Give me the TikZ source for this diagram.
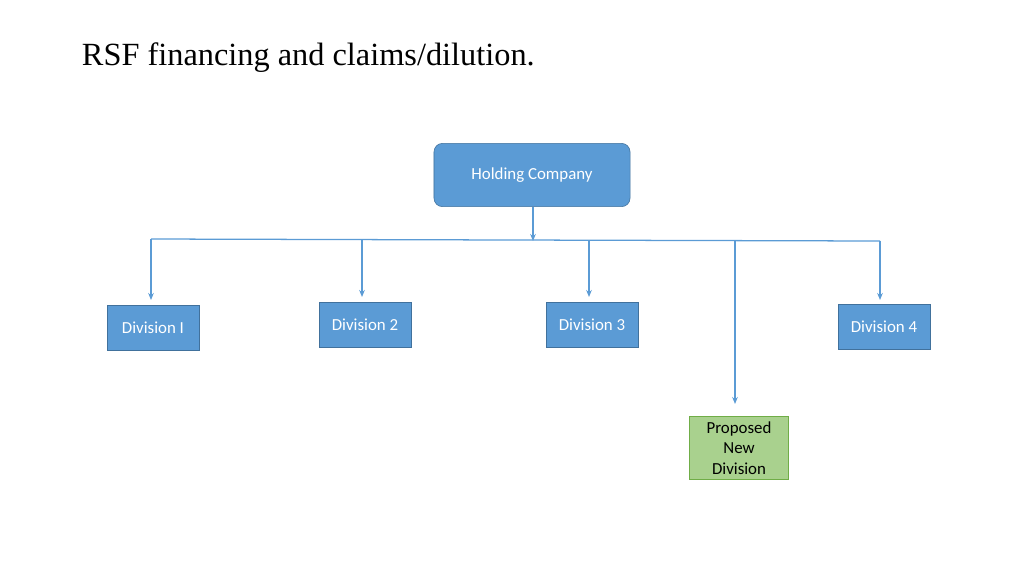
\documentclass[tikz,border=0pt]{standalone}
\usepackage{fontspec}
\setmainfont{Liberation Serif}
\newfontfamily\boxfont{Carlito}
\usetikzlibrary{arrows.meta}
\definecolor{boxblue}{HTML}{5B9BD5}
\definecolor{edgeblue}{HTML}{41719C}
\definecolor{boxgreen}{HTML}{A9D18E}
\definecolor{edgegreen}{HTML}{70AD47}
\begin{document}
\begin{tikzpicture}[x=0.025cm,y=-0.025cm,
	division/.style={draw=edgeblue, fill=boxblue, text=white, font=\boxfont\fontsize{12}{14}\selectfont, minimum width=2.3cm, minimum height=1.12cm, inner sep=0pt},
	link/.style={draw=boxblue, line width=0.9pt, -{Stealth[length=5pt,width=4pt]}}]
	\useasboundingbox (0,0) rectangle (1024,575);
	
	\node[anchor=west, font=\fontsize{23}{27}\selectfont] (title) at (77,58) {RSF financing and claims/dilution.};
	
	\node[division, rounded corners=6pt, minimum width=4.9cm, minimum height=1.58cm] (hold) at (532,175) {Holding Company};
	\node[division] (d1) at (153,328) {Division I};
	\node[division] (d2) at (365,325) {Division 2};
	\node[division] (d3) at (592,325) {Division 3};
	\node[division] (d4) at (884,327) {Division 4};
	\node[division, draw=edgegreen, fill=boxgreen, text=black, minimum width=2.47cm, minimum height=1.57cm, align=center, font=\boxfont\fontsize{12}{14.5}\selectfont] (new) at (739,448) {Proposed\\New\\Division};
	
	\coordinate (bus) at (533,241);
	\coordinate (left) at (151,239);
	\coordinate (right) at (880,241);
	\draw[link] (hold.south -| bus) -- (bus);
	\draw[draw=boxblue, line width=0.9pt] (left) -- (right);
	
	\draw[link] (left) -- (151,300);
	\draw[link] (362,240) -- (362,297);
	\draw[link] (589,240.5) -- (589,297);
	\draw[link] (735,241) -- (735,404);
	\draw[link] (right) -- (880,300);
\end{tikzpicture}
\end{document}
